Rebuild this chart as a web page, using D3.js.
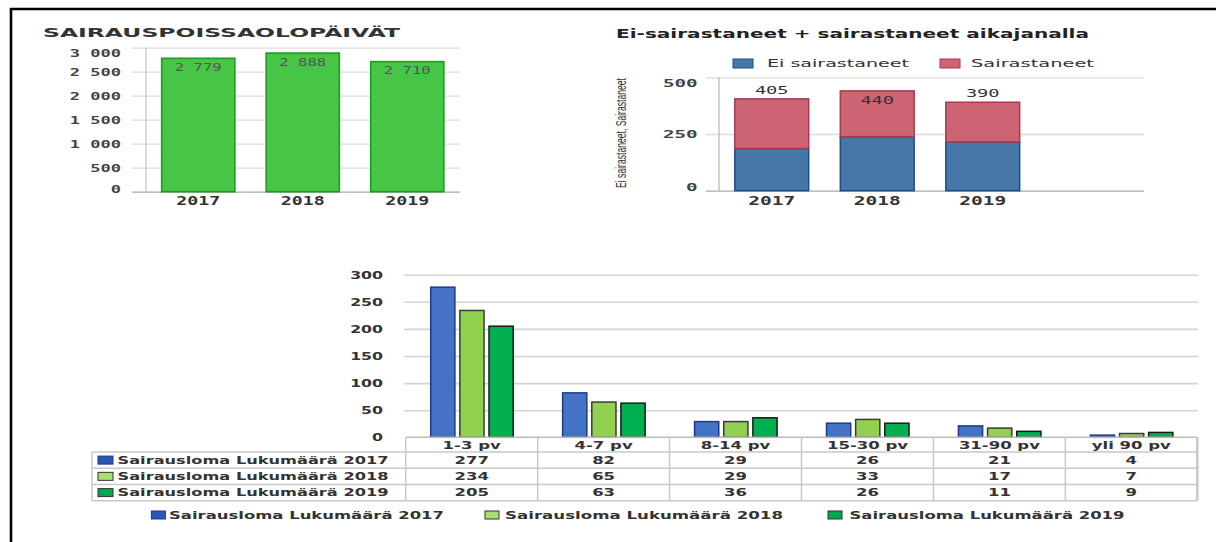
<!DOCTYPE html>
<html><head><meta charset="utf-8">
<script src="https://cdn.jsdelivr.net/npm/d3@7"></script>
<style>body{margin:0;background:#fff}svg{display:block}</style>
</head><body><svg id="c" width="1216" height="542"></svg>
<script>
// ---- Chart 1: sick-leave days per year
const daysYears = ["2017","2018","2019"];
const sickDays = [2779, 2888, 2710];
const sickDaysLabels = ["2 779","2 888","2 710"];
const daysTicks = [0,500,1000,1500,2000,2500,3000];
const daysTickLabels = ["0","500","1 000","1 500","2 000","2 500","3 000"];

// ---- Chart 2: not sick + sick, stacked
const stackYears = ["2017","2018","2019"];
const stackSeries = ["Ei sairastaneet","Sairastaneet"];
const notSick = [186, 238, 215];
const sick = [219, 202, 175];
const stackTotals = [405, 440, 390];
const stackTicks = [0,250,500];

// ---- Chart 3: sick leave counts by duration
const durations = ["1-3 pv","4-7 pv","8-14 pv","15-30 pv","31-90 pv","yli 90 pv"];
const leaveSeries = ["Sairausloma Lukumäärä 2017","Sairausloma Lukumäärä 2018","Sairausloma Lukumäärä 2019"];
const leave2017 = [277,82,29,26,21,4];
const leave2018 = [234,65,29,33,17,7];
const leave2019 = [205,63,36,26,11,9];
const leaveTicks = [0,50,100,150,200,250,300];

const svg = d3.select("#c");
const MONO = "'DejaVu Sans Mono', monospace";
const SANS = "'DejaVu Sans', Verdana, sans-serif";
const NARROW = "'Liberation Sans Narrow', 'Liberation Sans', Arial, sans-serif";

function styleText(sel, o) {
  sel.attr("x",0).attr("y",0).attr("dy","0.35em")
    .attr("text-anchor", o.anchor || "middle")
    .attr("transform", (d,i) => {
      const dx = typeof o.dx === "function" ? o.dx(d,i) : (o.dx || 0);
      const dy = typeof o.dy === "function" ? o.dy(d,i) : (o.dy || 0);
      return `translate(${dx},${dy}) scale(${o.sx || 1},1)`;
    })
    .style("font-family", o.family).style("font-size", o.size + "px")
    .style("font-weight", o.weight || "normal").attr("fill", o.fill || "#333");
  return sel;
}
function label(p, x, y, s, o) {
  const t = p.append("text").text(s);
  styleText(t, o);
  t.attr("transform", `translate(${x},${y}) scale(${o.sx || 1},1)`);
  if (o.len) t.attr("textLength", o.len).attr("lengthAdjust", "spacingAndGlyphs");
  return t;
}

// Frame
svg.append("path").attr("d","M11,542V9H1216").attr("fill","none").attr("stroke","#000").attr("stroke-width",2.6);

// ================= Chart 1 =================
const c1 = svg.append("g");
const x1 = d3.scaleBand().domain(daysYears).range([146,459.5]).paddingInner(0.3).paddingOuter(0.15);
const y1 = d3.scaleLinear().domain([0,3000]).range([191.7,47.7]);
const ay1 = c1.append("g").attr("transform","translate(132,0)")
  .call(d3.axisLeft(y1).tickValues(daysTicks).tickSize(-328).tickFormat((d,i)=>daysTickLabels[i]));
ay1.select(".domain").remove();
ay1.selectAll(".tick line").attr("stroke", d => d===0 ? "#aaa" : "#dcdcdc").attr("stroke-width",1.3);
styleText(ay1.selectAll(".tick text"), {anchor:"end", dx:-11,
  dy: d => { const y = y1(d); return Math.min(Math.max(y,53),189) - y; },
  sx:1.55, family:MONO, size:11, weight:"bold", fill:"#444"});
c1.append("line").attr("x1",146).attr("x2",146).attr("y1",y1(3000)).attr("y2",y1(0)).attr("stroke","#c8c8c8").attr("stroke-width",1.3);
c1.selectAll("rect.bar").data(sickDays).join("rect").attr("class","bar")
  .attr("x",(d,i)=>x1(daysYears[i])).attr("y",d=>y1(d))
  .attr("width",x1.bandwidth()).attr("height",d=>y1(0)-y1(d))
  .attr("fill","#46c546").attr("stroke","#1f9b1f").attr("stroke-width",1.6);
sickDays.forEach((v,i)=>label(c1, x1(daysYears[i])+x1.bandwidth()/2, y1(v)+9, sickDaysLabels[i],
  {family:MONO, size:10, sx:1.56, fill:"#555"}));
const ax1 = c1.append("g").attr("transform",`translate(0,${y1(0)})`).call(d3.axisBottom(x1).tickSize(0));
ax1.select(".domain").remove();
styleText(ax1.selectAll(".tick text"), {dy:9.3, sx:1.52, family:MONO, size:12, weight:"bold", fill:"#333"});
label(c1, 43, 32, "SAIRAUSPOISSAOLOPÄIVÄT", {anchor:"start", family:SANS, size:13, weight:"bold", fill:"#333", len:357});

// ================= Chart 2 =================
const c2 = svg.append("g");
const x2 = d3.scaleBand().domain(stackYears).range([719,1035.5]).paddingInner(0.3).paddingOuter(0.15);
const y2 = d3.scaleLinear().domain([0,500]).range([190.7,77.3]);
const ay2 = c2.append("g").attr("transform","translate(706,0)")
  .call(d3.axisLeft(y2).tickValues(stackTicks).tickSize(-438).tickFormat(d3.format("d")));
ay2.select(".domain").remove();
ay2.selectAll(".tick line").attr("stroke", d => d===0 ? "#aaa" : "#dcdcdc").attr("stroke-width",1.3);
styleText(ay2.selectAll(".tick text"), {anchor:"end", dx:-8.3,
  dy: d => { const y = y2(d); return Math.min(Math.max(y,82.7),186.7) - y; },
  sx:1.75, family:MONO, size:11, weight:"bold", fill:"#444"});
c2.append("line").attr("x1",719).attr("x2",719).attr("y1",y2(500)).attr("y2",y2(0)).attr("stroke","#bbb").attr("stroke-width",1.3);
const stackData = stackYears.map((y,i)=>({year:y, "Ei sairastaneet":notSick[i], "Sairastaneet":sick[i]}));
const stacked = d3.stack().keys(stackSeries)(stackData);
const stackFill = {"Ei sairastaneet":"#4677a8", "Sairastaneet":"#cc6474"};
const stackStroke = {"Ei sairastaneet":"#1e4c85", "Sairastaneet":"#a83a4c"};
c2.selectAll("g.ser").data(stacked).join("g").attr("class","ser")
  .selectAll("rect").data(s => s.map(p => ({p, key:s.key}))).join("rect")
  .attr("x", d => x2(d.p.data.year)).attr("y", d => y2(d.p[1]))
  .attr("width", x2.bandwidth()).attr("height", d => y2(d.p[0]) - y2(d.p[1]))
  .attr("fill", d => stackFill[d.key]).attr("stroke", d => stackStroke[d.key]).attr("stroke-width",1.5);
stackTotals.forEach((v,i)=>{
  const top = y2(v);
  const ly = top - 9 < 85 ? top + 9 : top - 9;
  label(c2, x2(stackYears[i]) + x2.bandwidth()/2, ly, String(v), {family:MONO, size:11, sx:1.7, fill:"#333"});
});
const ax2 = c2.append("g").attr("transform",`translate(0,${y2(0)})`).call(d3.axisBottom(x2).tickSize(0));
ax2.select(".domain").remove();
styleText(ax2.selectAll(".tick text"), {dy:10.3, sx:1.63, family:MONO, size:12, weight:"bold", fill:"#333"});
label(c2, 616, 33, "Ei-sairastaneet + sairastaneet aikajanalla", {anchor:"start", family:SANS, size:13, weight:"bold", fill:"#222", len:473});
// legend
const leg2 = [{k:stackSeries[0], sx:733, tx:767, len:142},{k:stackSeries[1], sx:940, tx:971, len:123}];
leg2.forEach(l=>{
  c2.append("rect").attr("x",l.sx).attr("y",59).attr("width",20).attr("height",9).attr("fill",stackFill[l.k]).attr("stroke",stackStroke[l.k]).attr("stroke-width",1);
  label(c2, l.tx, 63.5, l.k, {anchor:"start", family:SANS, size:11, fill:"#333", len:l.len});
});
const yt = c2.append("text").text(stackSeries.join(", "))
  .attr("text-anchor","middle").attr("dy","0.35em")
  .style("font-family",NARROW).style("font-size","14px").attr("fill","#333");
const ytLen = yt.node().getComputedTextLength() || 110;
yt.attr("transform",`translate(621,133) rotate(-90) scale(${110/ytLen},1)`);

// ================= Chart 3 =================
const c3 = svg.append("g");
const x0 = d3.scaleBand().domain(durations).range([405.7,1197.3]);
const xs = d3.scaleBand().domain(leaveSeries).range([25,107.5]).paddingInner(0.17);
const y3 = d3.scaleLinear().domain([0,300]).range([437.3,274.7]);
const leaveData = [leave2017, leave2018, leave2019];
const leaveFill = ["#4472c4","#92d050","#00b050"];
const leaveStroke = ["#1c3a8a","#3a3a3a","#1a1a1a"];
const swFill = ["#2e55b5","#a8e070","#00a84f"];
const ay3 = c3.append("g").attr("transform","translate(404,0)")
  .call(d3.axisLeft(y3).tickValues(leaveTicks).tickSize(-794).tickFormat(d3.format("d")));
ay3.select(".domain").remove();
ay3.selectAll(".tick line").attr("stroke", d => d===0 ? "none" : "#d4d4d4").attr("stroke-width",1.6);
styleText(ay3.selectAll(".tick text"), {anchor:"end", dx:-21, sx:1.5, family:SANS, size:10.5, weight:"bold", fill:"#333"});
leaveData.forEach((arr,s)=>{
  c3.append("g").selectAll("rect").data(arr).join("rect")
    .attr("x",(d,i)=>x0(durations[i]) + xs(leaveSeries[s])).attr("y",d=>y3(d))
    .attr("width",xs.bandwidth()).attr("height",d=>y3(0)-y3(d))
    .attr("fill",leaveFill[s]).attr("stroke",leaveStroke[s]).attr("stroke-width",1.5);
});
// table
const rowY = [437.3, 452, 468.2, 484.5, 500.7];
const tcol = "#c8c8c8";
c3.append("line").attr("x1",405.7).attr("x2",1197.3).attr("y1",rowY[0]).attr("y2",rowY[0]).attr("stroke","#bbb").attr("stroke-width",1.5);
rowY.slice(1).forEach(y=>c3.append("line").attr("x1",92).attr("x2",1197.3).attr("y1",y).attr("y2",y).attr("stroke",tcol).attr("stroke-width",1.5));
c3.append("line").attr("x1",92).attr("x2",92).attr("y1",rowY[1]).attr("y2",rowY[4]).attr("stroke",tcol).attr("stroke-width",1.5);
durations.concat([null]).forEach((d,i)=>{
  const x = d ? x0(d) : x0.range()[1];
  c3.append("line").attr("x1",x).attr("x2",x).attr("y1",rowY[0]).attr("y2",rowY[4]).attr("stroke",tcol).attr("stroke-width", d ? 1.5 : 2.5);
});
const ax3 = c3.append("g").attr("transform",`translate(0,${rowY[0]})`).call(d3.axisBottom(x0).tickSize(0));
ax3.select(".domain").remove();
styleText(ax3.selectAll(".tick text"), {dy:7.5, sx:1.5, family:SANS, size:11, weight:"bold", fill:"#333"});
leaveData.forEach((arr,s)=>{
  const cy = (rowY[s+1] + rowY[s+2]) / 2;
  arr.forEach((v,i)=>label(c3, x0(durations[i]) + x0.bandwidth()/2, cy, String(v), {sx:1.5, family:SANS, size:11, weight:"bold", fill:"#333"}));
  c3.append("rect").attr("x",98).attr("y",cy-4).attr("width",15).attr("height",8).attr("fill",swFill[s]).attr("stroke",s===0?"#1c3a8a":"#333").attr("stroke-width",1);
  label(c3, 117.5, cy, leaveSeries[s], {anchor:"start", family:SANS, size:11, weight:"bold", fill:"#333", len:271});
});
// bottom legend
const leg3 = [{sx:151.4, tx:169, len:275},{sx:485, tx:505, len:278},{sx:828, tx:849.5, len:275}];
leg3.forEach((l,s)=>{
  c3.append("rect").attr("x",l.sx).attr("y",511).attr("width",14).attr("height",8).attr("fill",swFill[s]).attr("stroke",s===0?"#1c3a8a":"#333").attr("stroke-width",1);
  label(c3, l.tx, 515, leaveSeries[s], {anchor:"start", family:SANS, size:11, weight:"bold", fill:"#333", len:l.len});
});
</script></body></html>
